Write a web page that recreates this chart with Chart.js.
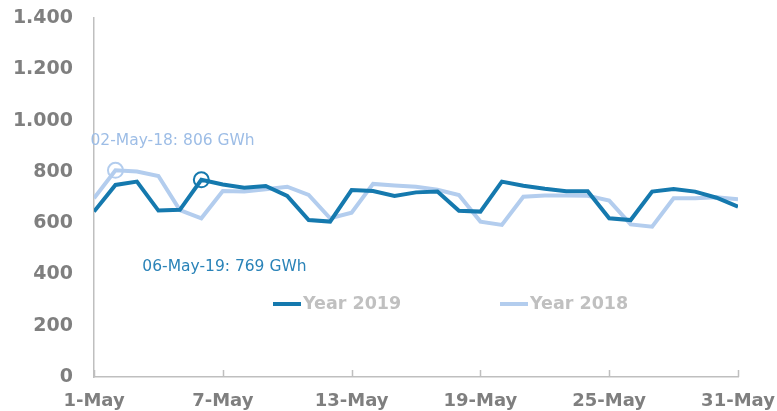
<!DOCTYPE html>
<html>
<head>
<meta charset="utf-8">
<script src="https://cdn.jsdelivr.net/npm/chart.js@4.4.1/dist/chart.umd.min.js"></script>
<style>
  html, body { margin: 0; padding: 0; background: #fff; }
  #wrap { width: 777px; height: 411px; position: relative; }
</style>
</head>
<body>
<div id="wrap"><canvas id="chart"></canvas></div>
<script>
// Days of May
const days = [1, 2, 3, 4, 5, 6, 7, 8, 9, 10, 11, 12, 13, 14, 15, 16, 17, 18, 19, 20,
  21, 22, 23, 24, 25, 26, 27, 28, 29, 30, 31];

// Daily consumption, GWh
const year2019 = [645, 749, 762, 649, 652, 769, 751, 738, 745, 706, 612, 606, 729, 725, 706,
  720, 723, 648, 645, 762, 746, 734, 724, 724, 619, 612, 723, 733, 723, 699, 664];
const year2018 = [697, 806, 801, 784, 651, 619, 725, 723, 732, 742, 710, 619, 641, 753, 747,
  742, 730, 710, 606, 593, 703, 708, 708, 707, 688, 595, 586, 697, 697, 701, 693];

const xTicks = [1, 7, 13, 19, 25, 31];
const yTicks = [0, 200, 400, 600, 800, 1000, 1200, 1400];

// highlighted peaks (index into days)
const peak2019 = 5;
const peak2018 = 1;

const DARK = "#1579ae";
const LIGHT = "#b3cdee";
const GREY = "#7f7f7f";
const AXIS = "#bfbfbf";
const FONT = "'DejaVu Sans', Verdana, sans-serif";

function fmt(v) {
  return String(v).replace(/\B(?=(\d{3})+(?!\d))/g, ".");
}

function radiusAt(idx) {
  return days.map((d, i) => (i === idx ? 7.5 : 0));
}

// tick marks on x axis pointing up into the plot
const xTickMarks = {
  id: "xTickMarks",
  afterDraw(chart) {
    const { ctx, scales, chartArea } = chart;
    ctx.save();
    ctx.strokeStyle = AXIS;
    ctx.lineWidth = 1.5;
    xTicks.forEach((t) => {
      const x = Math.round(scales.x.getPixelForValue(t)) + 0.5;
      ctx.beginPath();
      ctx.moveTo(x, chartArea.bottom);
      ctx.lineTo(x, chartArea.bottom - 7);
      ctx.stroke();
    });
    ctx.restore();
  },
};

// peak labels and legend
const extras = {
  id: "extras",
  afterDraw(chart) {
    const { ctx, scales } = chart;
    ctx.save();
    ctx.textBaseline = "middle";
    ctx.textAlign = "left";
    ctx.font = "15.5px " + FONT;

    let x = scales.x.getPixelForValue(days[peak2018]);
    let y = scales.y.getPixelForValue(year2018[peak2018]);
    ctx.fillStyle = "#9dbde6";
    ctx.fillText("02-May-18: " + year2018[peak2018] + " GWh", x - 25, y - 29);

    x = scales.x.getPixelForValue(days[peak2019]);
    y = scales.y.getPixelForValue(year2019[peak2019]);
    ctx.fillStyle = "#2a83b8";
    ctx.fillText("06-May-19: " + year2019[peak2019] + " GWh", x - 59, y + 87);

    // legend
    const items = [
      { label: "Year 2019", color: DARK, x: 273 },
      { label: "Year 2018", color: LIGHT, x: 500 },
    ];
    ctx.font = "bold 17.5px " + FONT;
    items.forEach((it) => {
      ctx.strokeStyle = it.color;
      ctx.lineWidth = 4;
      ctx.beginPath();
      ctx.moveTo(it.x, 304);
      ctx.lineTo(it.x + 28, 304);
      ctx.stroke();
      ctx.fillStyle = "#c0c0c0";
      ctx.fillText(it.label, it.x + 30, 304);
    });
    ctx.restore();
  },
};

new Chart(document.getElementById("chart"), {
  type: "line",
  data: {
    labels: days,
    datasets: [
      {
        label: "Year 2019",
        data: days.map((d, i) => ({ x: d, y: year2019[i] })),
        borderColor: DARK,
        borderWidth: 4,
        tension: 0,
        pointRadius: radiusAt(peak2019),
        pointBorderColor: DARK,
        pointBorderWidth: 2,
        pointBackgroundColor: "rgba(0,0,0,0)",
      },
      {
        label: "Year 2018",
        data: days.map((d, i) => ({ x: d, y: year2018[i] })),
        borderColor: LIGHT,
        borderWidth: 4,
        tension: 0,
        pointRadius: radiusAt(peak2018),
        pointBorderColor: LIGHT,
        pointBorderWidth: 2,
        pointBackgroundColor: "rgba(0,0,0,0)",
      },
    ],
  },
  options: {
    responsive: true,
    maintainAspectRatio: false,
    animation: false,
    layout: { padding: { top: 18, left: 0, right: 39, bottom: 0 } },
    scales: {
      x: {
        type: "linear",
        min: 1,
        max: 31,
        afterBuildTicks: (s) => { s.ticks = xTicks.map((v) => ({ value: v })); },
        afterFit: (s) => { s.height = 34; s.paddingLeft = 0; s.paddingRight = 0; },
        grid: { display: false, drawTicks: false },
        border: { display: true, color: AXIS, width: 1.5 },
        ticks: {
          padding: 14,
          color: GREY,
          font: { family: FONT, size: 18, weight: "bold" },
          callback: (v) => v + "-May",
          maxRotation: 0,
          autoSkip: false,
        },
      },
      y: {
        min: 0,
        max: 1400,
        afterBuildTicks: (s) => { s.ticks = yTicks.map((v) => ({ value: v })); },
        afterFit: (s) => { s.width = 94; s.paddingTop = 0; s.paddingBottom = 0; },
        grid: { display: false, drawTicks: false },
        border: { display: true, color: AXIS, width: 1.5 },
        ticks: {
          padding: 21,
          color: GREY,
          font: { family: FONT, size: 19, weight: "bold" },
          callback: (v) => fmt(v),
        },
      },
    },
    plugins: {
      legend: { display: false },
      tooltip: { enabled: false },
    },
  },
  plugins: [xTickMarks, extras],
});
</script>
</body>
</html>
